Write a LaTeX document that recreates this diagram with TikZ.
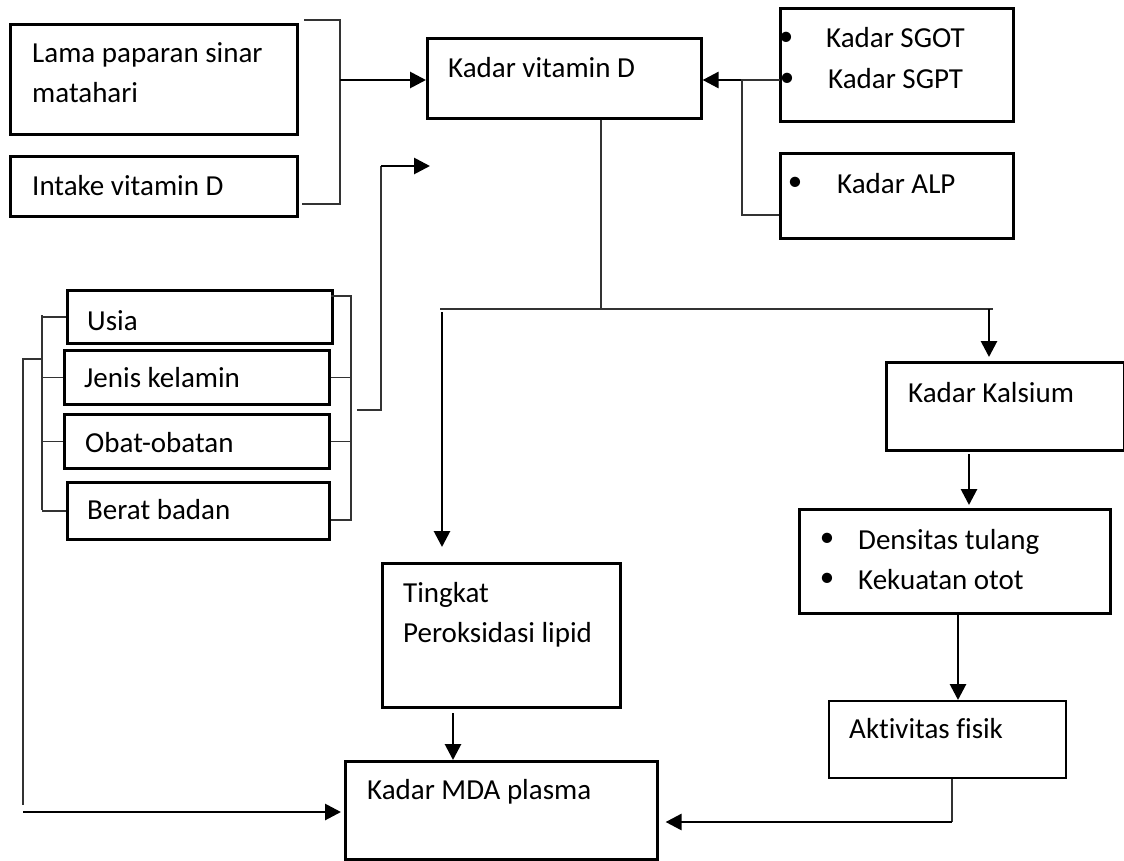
\documentclass[tikz,border=0pt]{standalone}
\usepackage{fontspec}
\setmainfont{Carlito}[Ligatures=NoCommon]
\usetikzlibrary{arrows.meta,positioning}
\tikzset{
  kotak/.style={draw, line width=2.6pt, inner sep=0pt, anchor=north west},
  teks/.style={inner sep=0pt, anchor=base west},
  titik/.style={inner sep=0pt},
  garis/.style={line width=1.6pt, black!80},
  panah/.style={line width=2.8pt, -{Triangle[length=16pt,width=16pt]}}
}

\begin{document}
\begin{tikzpicture}[x=1pt, y=-1pt, font=\fontsize{29pt}{40pt}\selectfont]
  \useasboundingbox (0,0) rectangle (1124,860);

  % kotak
  \node[kotak, minimum width=287pt, minimum height=110pt] (Lama) at (9,23) {};
  \node[kotak, minimum width=287pt, minimum height=60pt] (Intake) at (9,155) {};
  \node[kotak, minimum width=274pt, minimum height=80pt] (VitD) at (426,37) {};
  \node[kotak, minimum width=233pt, minimum height=113pt] (SGOT) at (779,7) {};
  \node[kotak, minimum width=233pt, minimum height=85pt] (ALP) at (779,152) {};
  \node[kotak, minimum width=265pt, minimum height=53pt] (Usia) at (66,289) {};
  \node[kotak, minimum width=265pt, minimum height=54pt] (Jenis) at (63,349) {};
  \node[kotak, minimum width=265pt, minimum height=54pt] (Obat) at (63,413) {};
  \node[kotak, minimum width=262pt, minimum height=57pt] (Berat) at (66,481) {};
  \node[kotak, minimum width=238pt, minimum height=88pt] (Ca) at (885,361) {};
  \node[kotak, minimum width=311pt, minimum height=104pt] (Dens) at (798,508) {};
  \node[kotak, line width=2pt, minimum width=237pt, minimum height=77pt] (Akt) at (828,700) {};
  \node[kotak, minimum width=238pt, minimum height=144pt] (Lipid) at (381,562) {};
  \node[kotak, minimum width=312pt, minimum height=98pt] (MDA) at (344,760) {};

  % teks
  \node[teks, anchor=west, align=left] (tLama) at (32,73) {Lama paparan sinar\\matahari};
  \node[teks] (tIntake) at (32,195) {Intake vitamin D};
  \node[teks] (tVitD) at (448,77) {Kadar vitamin D};
  \node[titik] (b1) at (786,39) {•};
  \node[titik] (b2) at (787,80) {•};
  \node[teks] (tSGOT) at (826,47) {Kadar SGOT};
  \node[teks] (tSGPT) at (828,88) {Kadar SGPT};
  \node[titik] (b3) at (795,184) {•};
  \node[teks] (tALP) at (837,193) {Kadar ALP};
  \node[teks] (tUsia) at (87,330) {Usia};
  \node[teks] (tJenis) at (84,387) {Jenis kelamin};
  \node[teks] (tObat) at (85,452) {Obat-obatan};
  \node[teks] (tBerat) at (87,519) {Berat badan};
  \node[teks] (tCa) at (908,402) {Kadar Kalsium};
  \node[titik] (b4) at (827,540) {•};
  \node[titik] (b5) at (827,580) {•};
  \node[teks] (tDens) at (858,549) {Densitas tulang};
  \node[teks] (tOtot) at (858,589) {Kekuatan otot};
  \node[teks] (tAkt) at (849,738) {Aktivitas fisik};
  \node[teks, anchor=west, align=left] (tLipid) at (403,615) {Tingkat\\Peroksidasi lipid};
  \node[teks] (tMDA) at (367,799) {Kadar MDA plasma};

  % titik bantu
  \coordinate (ka) at (304,20);
  \coordinate (kb) at (302,204);
  \coordinate (k1) at (340,80);
  \coordinate (k2) at (742,80);
  \coordinate (k3) at (742,215);
  \coordinate (k4) at (601,309);
  \coordinate (k5) at (440,309);
  \coordinate (k6) at (993,309);
  \coordinate (k7) at (989,309);
  \coordinate (k8) at (442,312);
  \coordinate (c1) at (969,454);
  \coordinate (c2) at (958,614);
  \coordinate (c3) at (952,822);
  \coordinate (c4) at (453,713);
  \coordinate (r0) at (331,296);
  \coordinate (r2) at (351,520);
  \coordinate (r3) at (357,410);
  \coordinate (r4) at (381,166);
  \coordinate (r5) at (430,166);
  \coordinate (l1) at (42,315);
  \coordinate (l2) at (42,510);
  \coordinate (l3) at (23,359);
  \coordinate (l4) at (23,805);
  \coordinate (l5) at (23,812);

  % atas
  \draw[garis] (ka) -| (k1) |- (kb);
  \draw[panah] (k1) -- (k1 -| VitD.west);
  \draw[panah] (k2) -- (k2 -| VitD.east);
  \draw[garis] (b2.west) -- (k2) -- (k3) -- (k3 -| ALP.west);
  \draw[garis] (k4 |- VitD.south) -- (k4);
  \draw[garis] (k5) -- (k6);
  \draw[panah, shorten >=4pt] (k7) -- (k7 |- Ca.north);
  \draw[panah, shorten >=15pt] (k8) -- (k8 |- Lipid.north);

  % kanan
  \draw[panah, shorten >=3pt] (c1) -- (c1 |- Dens.north);
  \draw[panah] (c2) -- (c2 |- Akt.north);
  \draw[garis] (c3 |- Akt.south) -- (c3);
  \draw[panah, shorten >=7pt] (c3) -- (c3 -| MDA.east);
  \draw[panah] (c4) -- (c4 |- MDA.north);

  % kiri
  \draw[garis] (r0) -| (r2) -- (r2 -| Berat.east);
  \draw[garis] (Jenis.east) -- (Jenis.east -| r2);
  \draw[garis] (Obat.east) -- (Obat.east -| r2);
  \draw[garis] (r3) -| (r4);
  \draw[panah] (r4) -- (r5);
  \draw[garis] (l1) -- (l2);
  \draw[garis] (Usia.west) -- (Usia.west -| l1);
  \draw[garis] (Jenis.west) -- (Jenis.west -| l1);
  \draw[garis] (Obat.west) -- (Obat.west -| l1);
  \draw[garis] (Berat.west) -- (Berat.west -| l1);
  \draw[garis] (l1 |- l3) -- (l3) -- (l4);
  \draw[panah, shorten >=3pt] (l5) -- (l5 -| MDA.west);
\end{tikzpicture}
\end{document}
